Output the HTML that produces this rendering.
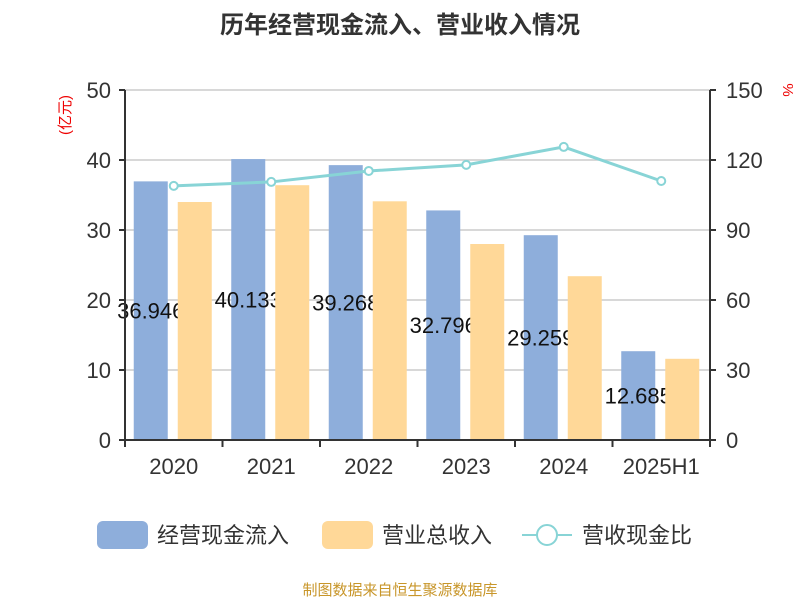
<!DOCTYPE html>
<html><head><meta charset="utf-8"><style>
body{margin:0;background:#fff;}
svg text{font-family:"Liberation Sans","Noto Sans CJK SC",sans-serif;}
</style></head><body>
<svg id="c" width="800" height="600" xmlns="http://www.w3.org/2000/svg">
<text x="400" y="33" text-anchor="middle" font-size="24" font-weight="bold" fill="#333">历年经营现金流入、营业收入情况</text>
<text transform="translate(70,115) rotate(-90)" text-anchor="middle" font-size="15" fill="#e00">(亿元)</text>
<text transform="translate(783,90) rotate(90)" text-anchor="middle" font-size="15" fill="#e00">%</text>
<g id="grid"></g><g id="bars"></g><g id="axes"></g><g id="line"></g>
<g>
<rect x="97" y="521" width="51" height="28" rx="6" fill="#8eaedb"/>
<text x="157" y="543" font-size="22" fill="#333">经营现金流入</text>
<rect x="322" y="521" width="51" height="28" rx="6" fill="#ffd898"/>
<text x="382" y="543" font-size="22" fill="#333">营业总收入</text>
<line x1="522" y1="535" x2="572" y2="535" stroke="#88d4d6" stroke-width="2"/>
<circle cx="547" cy="535" r="10" fill="#fff" stroke="#88d4d6" stroke-width="2"/>
<text x="582" y="543" font-size="22" fill="#333">营收现金比</text>
</g>
<text x="400" y="595" text-anchor="middle" font-size="15" fill="#c8962a">制图数据来自恒生聚源数据库</text>
</svg>
<script>
const categories=["2020","2021","2022","2023","2024","2025H1"];
const cashIn=[36.946,40.133,39.268,32.796,29.259,12.685];
const revenue=[34.0,36.4,34.1,28.0,23.4,11.6];
const ratio=[108.9,110.6,115.3,117.9,125.6,111.0];
const leftTicks=[0,10,20,30,40,50];
const rightTicks=[0,30,60,90,120,150];
const NS="http://www.w3.org/2000/svg";
const X0=125,X1=710,Y0=440,Y1=90;
const bw=(X1-X0)/categories.length;
const cx=i=>X0+bw*(i+0.5);
const yL=v=>Y0-(v/50)*(Y0-Y1);
const yR=v=>Y0-(v/150)*(Y0-Y1);
function mk(tag,attrs,parent){const e=document.createElementNS(NS,tag);for(const k in attrs)e.setAttribute(k,attrs[k]);document.getElementById(parent).appendChild(e);return e;}
leftTicks.forEach((t,i)=>{
  if(t>0){const g=mk('line',{x1:X0,x2:X1,y1:yL(t),y2:yL(t),stroke:'#ccc','stroke-width':1.5},'grid');
  
  }
  const tk=mk('line',{x1:X0-6,x2:X0,y1:yL(t),y2:yL(t),stroke:'#333','stroke-width':2},'axes');
  const lt=mk('text',{x:X0-14,y:yL(t)+8,'text-anchor':'end','font-size':22,fill:'#333'},'axes');lt.textContent=t;
  
  
});
rightTicks.forEach(t=>{
  mk('line',{x1:X1,x2:X1+6,y1:yR(t),y2:yR(t),stroke:'#333','stroke-width':2},'axes');
  const rt=mk('text',{x:X1+16,y:yR(t)+8,'font-size':22,fill:'#333'},'axes');rt.textContent=t;
  
  
});
mk('line',{x1:X0,x2:X0,y1:Y1,y2:Y0,stroke:'#333','stroke-width':2},'axes');
mk('line',{x1:X1,x2:X1,y1:Y1,y2:Y0,stroke:'#333','stroke-width':2},'axes');
mk('line',{x1:X0,x2:X1,y1:Y0,y2:Y0,stroke:'#333','stroke-width':2},'axes');
for(let i=0;i<=categories.length;i++)mk('line',{x1:X0+bw*i,x2:X0+bw*i,y1:Y0,y2:Y0+7,stroke:'#333','stroke-width':2},'axes');
categories.forEach((c,i)=>{
  const x=cx(i);
  const b=mk('rect',{x:x-40,y:yL(cashIn[i]),width:34,height:Y0-yL(cashIn[i]),fill:'#8eaedb'},'bars');
  
  
  const vl=mk('text',{x:x-23,y:(Y0+yL(cashIn[i]))/2+8,'text-anchor':'middle','font-size':22,fill:'#111'},'bars');vl.textContent=cashIn[i].toFixed(3);
  
  
  const o=mk('rect',{x:x+4,y:yL(revenue[i]),width:34,height:Y0-yL(revenue[i]),fill:'#ffd898'},'bars');
  
  
  const ct=mk('text',{x:x,y:474,'text-anchor':'middle','font-size':22,fill:'#333'},'axes');ct.textContent=c;
  
  
});
const pl=mk('polyline',{points:ratio.map((v,i)=>cx(i)+','+yR(v)).join(' '),fill:'none',stroke:'#88d4d6','stroke-width':3},'line');


ratio.forEach((v,i)=>{
  const p=mk('circle',{cx:cx(i),cy:yR(v),r:4,fill:'#fff',stroke:'#88d4d6','stroke-width':2},'line');
  
  
});
</script>
</body></html>
